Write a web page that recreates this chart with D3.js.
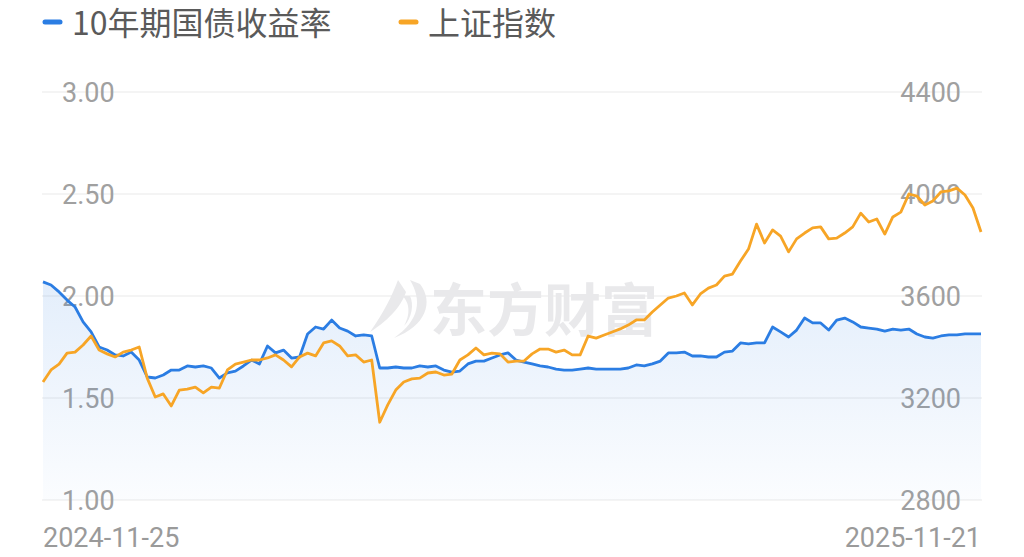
<!DOCTYPE html>
<html lang="zh">
<head>
<meta charset="UTF-8">
<title>10年期国债收益率 vs 上证指数</title>
<script src="https://d3js.org/d3.v7.min.js"></script>
<style>
body { margin: 0; background: #fff; }
svg { display: block; }
</style>
</head>
<body>
<svg id="chart" width="1024" height="557"></svg>
<script>
// 数据：2024-11-25 ~ 2025-11-21，等间隔采样
var startDate = '2024-11-25';
var endDate = '2025-11-21';
var seriesNames = ['10年期国债收益率', '上证指数'];
var leftTicks = [1.00, 1.50, 2.00, 2.50, 3.00];
var rightTicks = [2800, 3200, 3600, 4000, 4400];

var bondYield = [
  2.069, 2.054, 2.020, 1.980, 1.946, 1.873, 1.824, 1.750, 1.735, 1.711,
  1.706, 1.725, 1.686, 1.603, 1.598, 1.613, 1.637, 1.637, 1.657, 1.652,
  1.657, 1.647, 1.598, 1.623, 1.632, 1.657, 1.686, 1.667, 1.755, 1.721,
  1.735, 1.696, 1.701, 1.814, 1.848, 1.838, 1.882, 1.843, 1.828, 1.804,
  1.809, 1.804, 1.647, 1.647, 1.652, 1.647, 1.647, 1.657, 1.652, 1.657,
  1.637, 1.627, 1.632, 1.667, 1.681, 1.681, 1.696, 1.711, 1.721, 1.686,
  1.676, 1.667, 1.657, 1.652, 1.642, 1.637, 1.637, 1.642, 1.647, 1.642,
  1.642, 1.642, 1.642, 1.647, 1.662, 1.657, 1.667, 1.681, 1.721, 1.721,
  1.725, 1.706, 1.706, 1.701, 1.701, 1.725, 1.730, 1.770, 1.765, 1.770,
  1.770, 1.848, 1.824, 1.799, 1.833, 1.892, 1.868, 1.868, 1.833, 1.882,
  1.892, 1.873, 1.848, 1.843, 1.838, 1.828, 1.838, 1.833, 1.838, 1.814,
  1.799, 1.794, 1.804, 1.809, 1.809, 1.814, 1.814, 1.814
];

var shIndex = [
  3263, 3310, 3333, 3376, 3380, 3408, 3443, 3388, 3373, 3361,
  3380, 3388, 3400, 3278, 3204, 3216, 3169, 3231, 3235, 3243,
  3220, 3243, 3239, 3310, 3333, 3341, 3349, 3349, 3357, 3369,
  3349, 3322, 3361, 3376, 3365, 3416, 3424, 3404, 3365, 3369,
  3341, 3349, 3105, 3173, 3231, 3263, 3275, 3278, 3298, 3302,
  3290, 3294, 3349, 3369, 3396, 3369, 3376, 3373, 3341, 3345,
  3345, 3373, 3392, 3392, 3380, 3388, 3369, 3369, 3443, 3435,
  3447, 3459, 3471, 3486, 3506, 3506, 3537, 3565, 3592, 3600,
  3612, 3565, 3608, 3631, 3643, 3678, 3686, 3737, 3784, 3882,
  3808, 3859, 3835, 3773, 3824, 3847, 3867, 3871, 3824, 3827,
  3847, 3871, 3925, 3890, 3902, 3843, 3910, 3929, 4000, 3992,
  3957, 3973, 4008, 4012, 4023, 3996, 3945, 3851
];

var svg = d3.select('#chart');
var plotL = 43, plotR = 981, plotT = 92, plotB = 500;
var blue = '#2b7de3', orange = '#f7a526';

var x = d3.scaleLinear().domain([0, bondYield.length - 1]).range([plotL, plotR]);
var yL = d3.scaleLinear().domain([1, 3]).range([plotB, plotT]);
var yR = d3.scaleLinear().domain([2800, 4400]).range([plotB, plotT]);

var defs = svg.append('defs');
var grad = defs.append('linearGradient').attr('id', 'areaGrad')
  .attr('x1', 0).attr('y1', 0).attr('x2', 0).attr('y2', 1);
grad.append('stop').attr('offset', '0%').attr('stop-color', blue).attr('stop-opacity', 0.13);
grad.append('stop').attr('offset', '100%').attr('stop-color', blue).attr('stop-opacity', 0.02);

// 网格线
svg.append('g').selectAll('line').data(leftTicks).enter().append('line')
  .attr('x1', plotL - 1).attr('x2', plotR + 1)
  .attr('y1', function(d) { return yL(d); })
  .attr('y2', function(d) { return yL(d); })
  .attr('stroke', '#f0f0f0').attr('stroke-width', 1.6);

// 水印
var wm = svg.append('g').attr('fill', '#e9e9eb');
wm.append('path')
  .attr('d', 'M398,280 C392,296 384,312 370,332 C392,318 402,304 406,292 Z M410,280 C422,300 420,320 394,338 C426,326 434,302 420,284 Z M402,296 C408,300 412,312 404,326 C412,318 414,304 410,296 Z');
wm.append('text')
  .attr('x', 430).attr('y', 331)
  .attr('font-family', '"Noto Sans CJK SC", sans-serif')
  .attr('font-weight', 'bold').attr('font-size', 57)
  .text('东方财富');

// 坐标轴文字
var numFont = 'Roboto, "Noto Sans", sans-serif';
svg.append('g').selectAll('text').data(leftTicks).enter().append('text')
  .attr('x', 62).attr('y', function(d) { return yL(d) + 10; })
  .attr('font-family', numFont).attr('font-size', 27).attr('fill', '#a0a0a0')
  .text(function(d) { return d3.format('.2f')(d); });

svg.append('g').selectAll('text').data(rightTicks).enter().append('text')
  .attr('x', 961).attr('y', function(d) { return yR(d) + 10; })
  .attr('text-anchor', 'end')
  .attr('font-family', numFont).attr('font-size', 27).attr('fill', '#a0a0a0')
  .text(function(d) { return d; });

svg.append('text').attr('x', plotL).attr('y', 547)
  .attr('font-family', numFont).attr('font-size', 27).attr('fill', '#9a9a9a')
  .text(startDate);
svg.append('text').attr('x', plotR).attr('y', 547).attr('text-anchor', 'end')
  .attr('font-family', numFont).attr('font-size', 27).attr('fill', '#9a9a9a')
  .text(endDate);

// 面积 + 折线
var area = d3.area()
  .x(function(d, i) { return x(i); })
  .y0(plotB)
  .y1(function(d) { return yL(d); });
svg.append('path').datum(bondYield).attr('d', area).attr('fill', 'url(#areaGrad)');

var lineL = d3.line().x(function(d, i) { return x(i); }).y(function(d) { return yL(d); });
var lineR = d3.line().x(function(d, i) { return x(i); }).y(function(d) { return yR(d); });

svg.append('path').datum(bondYield).attr('d', lineL)
  .attr('fill', 'none').attr('stroke', blue).attr('stroke-width', 2.8)
  .attr('stroke-linejoin', 'round');
svg.append('path').datum(shIndex).attr('d', lineR)
  .attr('fill', 'none').attr('stroke', orange).attr('stroke-width', 2.8)
  .attr('stroke-linejoin', 'round');

// 图例
var legend = [
  { name: seriesNames[0], color: blue, x: 42 },
  { name: seriesNames[1], color: orange, x: 398 }
];
var lg = svg.append('g').selectAll('g').data(legend).enter().append('g');
lg.append('line')
  .attr('x1', function(d) { return d.x + 3; }).attr('x2', function(d) { return d.x + 18; })
  .attr('y1', 22).attr('y2', 22)
  .attr('stroke', function(d) { return d.color; })
  .attr('stroke-width', 5).attr('stroke-linecap', 'round');
lg.append('text')
  .attr('x', function(d) { return d.x + 30; }).attr('y', 35)
  .attr('font-family', '"Noto Sans CJK SC", sans-serif').attr('font-size', 32)
  .attr('fill', '#5a5a5a')
  .text(function(d) { return d.name; });
</script>
</body>
</html>
